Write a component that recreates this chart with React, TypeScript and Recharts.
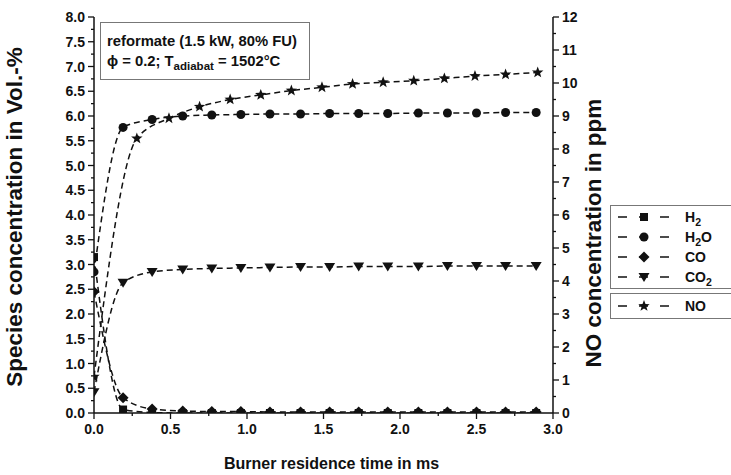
import React from 'react';
import { LineChart, Line, XAxis, YAxis, Label } from 'recharts';

// residence time (ms) of the species samples and the NO samples
const speciesTime = [0, 0.19, 0.38, 0.58, 0.77, 0.96, 1.15, 1.35, 1.54, 1.73, 1.92, 2.12, 2.31, 2.5, 2.69, 2.89];
const noTime = [0, 0.28, 0.49, 0.69, 0.89, 1.09, 1.29, 1.49, 1.69, 1.89, 2.09, 2.29, 2.49, 2.69, 2.9];

// species concentrations in Vol.-%
const h2 = [3.15, 0.07, 0.01, 0, 0, 0, 0, 0, 0, 0, 0, 0, 0, 0, 0, 0];
const h2o = [2.85, 5.77, 5.93, 6.0, 6.02, 6.03, 6.04, 6.04, 6.05, 6.05, 6.05, 6.06, 6.06, 6.06, 6.07, 6.07];
const co = [2.45, 0.31, 0.08, 0.04, 0.03, 0.03, 0.02, 0.02, 0.02, 0.02, 0.02, 0.02, 0.02, 0.02, 0.02, 0.02];
const co2 = [0.42, 2.63, 2.85, 2.9, 2.92, 2.93, 2.94, 2.95, 2.95, 2.96, 2.96, 2.96, 2.97, 2.97, 2.97, 2.97];

// NO concentration in ppm
const noPpm = [1.1, 8.32, 8.93, 9.28, 9.5, 9.64, 9.77, 9.87, 9.97, 10.02, 10.07, 10.14, 10.21, 10.26, 10.32];

// ticks (majors get labels, the rest are minor ticks)
const xTicks = [0, 0.25, 0.5, 0.75, 1, 1.25, 1.5, 1.75, 2, 2.25, 2.5, 2.75, 3];
const xLabels = [0, 0.5, 1, 1.5, 2, 2.5, 3];
const leftTicks = [0, 0.25, 0.5, 0.75, 1, 1.25, 1.5, 1.75, 2, 2.25, 2.5, 2.75, 3, 3.25, 3.5, 3.75, 4, 4.25, 4.5, 4.75, 5, 5.25, 5.5, 5.75, 6, 6.25, 6.5, 6.75, 7, 7.25, 7.5, 7.75, 8];
const leftLabels = [0, 0.5, 1, 1.5, 2, 2.5, 3, 3.5, 4, 4.5, 5, 5.5, 6, 6.5, 7, 7.5, 8];
const rightTicks = [0, 0.5, 1, 1.5, 2, 2.5, 3, 3.5, 4, 4.5, 5, 5.5, 6, 6.5, 7, 7.5, 8, 8.5, 9, 9.5, 10, 10.5, 11, 11.5, 12];
const rightLabels = [0, 1, 2, 3, 4, 5, 6, 7, 8, 9, 10, 11, 12];

const FONT = '"Liberation Sans", Arial, sans-serif';
const INK = '#111';

type Shape = 'square' | 'circle' | 'diamond' | 'triangle' | 'star';

const species = [
  { key: 'h2', name: 'H', sub: '2', tail: '', values: h2, shape: 'square' as Shape },
  { key: 'h2o', name: 'H', sub: '2', tail: 'O', values: h2o, shape: 'circle' as Shape },
  { key: 'co', name: 'CO', sub: '', tail: '', values: co, shape: 'diamond' as Shape },
  { key: 'co2', name: 'CO', sub: '2', tail: '', values: co2, shape: 'triangle' as Shape },
];

const starPath = (cx: number, cy: number, r: number) => {
  const pts: string[] = [];
  for (let i = 0; i < 10; i++) {
    const rad = i % 2 === 0 ? r : r * 0.42;
    const a = -Math.PI / 2 + (i * Math.PI) / 5;
    pts.push(`${cx + rad * Math.cos(a)},${cy + rad * Math.sin(a)}`);
  }
  return `M${pts.join('L')}Z`;
};

const Marker = ({ shape, cx, cy }: { shape: Shape; cx: number; cy: number }) => {
  if (shape === 'square') return <rect x={cx - 4} y={cy - 4} width={8} height={8} fill={INK} />;
  if (shape === 'circle') return <circle cx={cx} cy={cy} r={4.5} fill={INK} />;
  if (shape === 'diamond')
    return <path d={`M${cx},${cy - 5.5}L${cx + 5.5},${cy}L${cx},${cy + 5.5}L${cx - 5.5},${cy}Z`} fill={INK} />;
  if (shape === 'triangle')
    return <path d={`M${cx - 5.5},${cy - 4}L${cx + 5.5},${cy - 4}L${cx},${cy + 5}Z`} fill={INK} />;
  return <path d={starPath(cx, cy, 6)} fill={INK} />;
};

const dotFor = (shape: Shape) => (p: any) =>
  <Marker key={`${shape}-${p.index}`} shape={shape} cx={p.cx} cy={p.cy} />;

const isIn = (list: number[], v: number) => list.some((l) => Math.abs(l - v) < 1e-6);

const LeftTick = (p: any) => {
  const v = p.payload.value;
  const major = isIn(leftLabels, v);
  return (
    <g>
      <line x1={p.x} x2={p.x - (major ? 6 : 3)} y1={p.y} y2={p.y} stroke={INK} strokeWidth={1.3} />
      {major && (
        <text x={p.x - 9} y={p.y} dy="0.36em" textAnchor="end" fontSize={14} fontWeight="bold" fill={INK} fontFamily={FONT}>
          {v.toFixed(1)}
        </text>
      )}
    </g>
  );
};

const RightTick = (p: any) => {
  const v = p.payload.value;
  const major = isIn(rightLabels, v);
  return (
    <g>
      <line x1={p.x} x2={p.x + (major ? 6 : 3)} y1={p.y} y2={p.y} stroke={INK} strokeWidth={1.3} />
      {major && (
        <text x={p.x + 9} y={p.y} dy="0.36em" textAnchor="start" fontSize={14} fontWeight="bold" fill={INK} fontFamily={FONT}>
          {v}
        </text>
      )}
    </g>
  );
};

const BottomTick = (p: any) => {
  const v = p.payload.value;
  const major = isIn(xLabels, v);
  return (
    <g>
      <line x1={p.x} x2={p.x} y1={p.y} y2={p.y + (major ? 6 : 3)} stroke={INK} strokeWidth={1.3} />
      {major && (
        <text x={p.x} y={p.y + 10} dy="0.8em" textAnchor="middle" fontSize={14} fontWeight="bold" fill={INK} fontFamily={FONT}>
          {v.toFixed(1)}
        </text>
      )}
    </g>
  );
};

const VTitle = ({ x, y, text }: { x: number; y: number; text: string }) => (
  <text x={x} y={y} transform={`rotate(-90, ${x}, ${y})`} textAnchor="middle" fontSize={22.5} fontWeight="bold" fill={INK} fontFamily={FONT}>
    {text}
  </text>
);

const LegendSample = ({ shape }: { shape: Shape }) => (
  <svg width={58} height={14} style={{ display: 'block' }}>
    <line x1={3} x2={55} y1={7} y2={7} stroke={INK} strokeWidth={1.5} strokeDasharray="9 12" />
    <Marker shape={shape} cx={29} cy={7} />
  </svg>
);

const legendRow: React.CSSProperties = { display: 'flex', alignItems: 'center', height: 20, whiteSpace: 'nowrap' };

export default function App() {
  const noData = noTime.map((t, i) => ({ t, v: noPpm[i] }));
  return (
    <div style={{ position: 'absolute', left: 0, top: 0, width: 731, height: 475, background: '#fff', overflow: 'hidden', fontFamily: FONT }}>
      <LineChart width={731} height={475} margin={{ top: 17, right: 128, bottom: 0, left: 0 }}>
        <XAxis
          dataKey="t"
          type="number"
          domain={[0, 3]}
          ticks={xTicks}
          interval={0}
          height={62}
          tickSize={0}
          tickMargin={0}
          tickLine={false}
          tick={<BottomTick />}
          axisLine={{ stroke: INK, strokeWidth: 1.5 }}
          allowDataOverflow
        >
          <Label
            content={(props: any) => {
              const vb = props.viewBox;
              return (
                <text x={vb.x + vb.width / 2 + 8} y={vb.y + 56} textAnchor="middle" fontSize={16} fontWeight="bold" fill={INK} fontFamily={FONT}>
                  Burner residence time in ms
                </text>
              );
            }}
          />
        </XAxis>
        <XAxis xAxisId="top" orientation="top" type="number" domain={[0, 3]} height={0} tick={false} tickLine={false} axisLine={{ stroke: INK, strokeWidth: 1.5 }} />
        <YAxis
          yAxisId="left"
          type="number"
          domain={[0, 8]}
          ticks={leftTicks}
          interval={0}
          width={94}
          tickSize={0}
          tickMargin={0}
          tickLine={false}
          tick={<LeftTick />}
          axisLine={{ stroke: INK, strokeWidth: 1.5 }}
          allowDataOverflow
        >
          <Label
            content={(props: any) => {
              const vb = props.viewBox;
              return <VTitle x={vb.x + 22} y={vb.y + vb.height / 2 + 2} text="Species concentration in Vol.-%" />;
            }}
          />
        </YAxis>
        <YAxis
          yAxisId="right"
          orientation="right"
          type="number"
          domain={[0, 12]}
          ticks={rightTicks}
          interval={0}
          width={50}
          tickSize={0}
          tickMargin={0}
          tickLine={false}
          tick={<RightTick />}
          axisLine={{ stroke: INK, strokeWidth: 1.5 }}
          allowDataOverflow
        >
          <Label
            content={(props: any) => {
              const vb = props.viewBox;
              return <VTitle x={vb.x + 48} y={vb.y + vb.height / 2 + 18} text="NO concentration in ppm" />;
            }}
          />
        </YAxis>
        {species.map((s) => (
          <Line
            key={s.key}
            yAxisId="left"
            data={speciesTime.map((t, i) => ({ t, v: s.values[i] }))}
            dataKey="v"
            type="monotone"
            stroke={INK}
            strokeWidth={1.5}
            strokeDasharray="6 4"
            dot={dotFor(s.shape)}
            activeDot={false}
            isAnimationActive={false}
          />
        ))}
        <Line
          yAxisId="right"
          data={noData}
          dataKey="v"
          type="monotone"
          stroke={INK}
          strokeWidth={1.5}
          strokeDasharray="6 4"
          dot={dotFor('star')}
          activeDot={false}
          isAnimationActive={false}
        />
      </LineChart>

      {/* annotation box */}
      <div
        style={{
          position: 'absolute', left: 100, top: 22, width: 210, height: 58, border: '1px solid #777',
          fontSize: 14.8, fontWeight: 'bold', color: INK, padding: '0 0 0 6px', boxSizing: 'border-box', lineHeight: '20px',
        }}
      >
        <div style={{ marginTop: 8 }}>reformate (1.5 kW, 80% FU)</div>
        <div>
          ϕ = 0.2; T<sub style={{ fontSize: 11.5, lineHeight: 0 }}>adiabat</sub> = 1502°C
        </div>
      </div>

      {/* legend */}
      <div style={{ position: 'absolute', left: 610, top: 205, width: 140, height: 84, border: '1px solid #777', boxSizing: 'border-box', padding: '1px 0 0 4px', fontSize: 14, fontWeight: 'bold', color: INK }}>
        {species.map((s) => (
          <div key={s.key} style={legendRow}>
            <LegendSample shape={s.shape} />
            <span style={{ marginLeft: 12 }}>
              {s.name}
              {s.sub && <sub style={{ fontSize: 10.5, lineHeight: 0 }}>{s.sub}</sub>}
              {s.tail}
            </span>
          </div>
        ))}
      </div>
      <div style={{ position: 'absolute', left: 610, top: 293, width: 140, height: 26, border: '1px solid #777', boxSizing: 'border-box', padding: '2px 0 0 4px', fontSize: 14, fontWeight: 'bold', color: INK }}>
        <div style={legendRow}>
          <LegendSample shape="star" />
          <span style={{ marginLeft: 12 }}>NO</span>
        </div>
      </div>
    </div>
  );
}
